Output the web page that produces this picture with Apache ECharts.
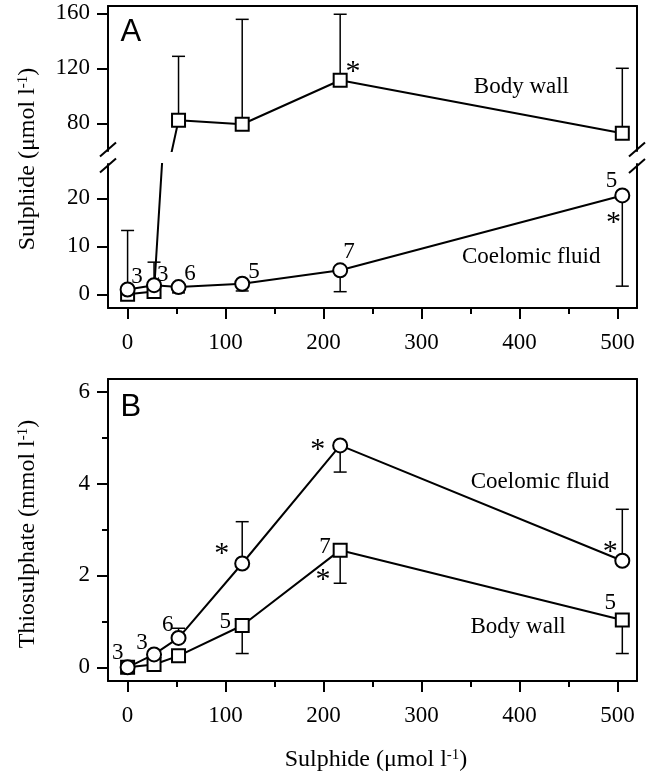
<!DOCTYPE html>
<html><head><meta charset="utf-8">
<script src="https://cdn.jsdelivr.net/npm/echarts@6/dist/echarts.min.js"></script>
<style>html,body{margin:0;padding:0;background:#fff}#c{width:651px;height:780px}</style>
</head><body><div id="c"></div>
<script>
// ---- data ----
const sulphideAdded = [0, 27, 52, 117, 217, 505];
// Panel A: sulphide (umol/l)
const sulphBodyWall = [0.0, 0.6, 82.2, 79.3, 111.3, 72.7];
const sulphBodyWallErrEnd = [null, null, 128.7, 155.6, 159.3, 120.0];
const sulphCoelomic = [1.0, 1.9, 1.5, 2.2, 5.0, 20.6];
const sulphCoelomicErrEnd = [13.3, 6.7, 0.3, 0.7, 0.55, 1.7];
// Panel B: thiosulphate (mmol/l)
const thioCoelomic = [0.0, 0.28, 0.64, 2.26, 4.83, 2.32];
const thioCoelomicErrEnd = [null, null, 0.85, 3.17, 4.25, 3.44];
const thioBodyWall = [0.0, 0.06, 0.25, 0.91, 2.55, 1.03];
const thioBodyWallErrEnd = [null, null, null, 0.30, 1.83, 0.30];
// tick values
const xMajorTicks = [0, 100, 200, 300, 400, 500];
const xMinorTicks = [50, 150, 250, 350, 450];
const yTicksAUpper = [80, 120, 160];
const yTicksALower = [0, 10, 20];
const yTicksB = [0, 2, 4, 6];
const yMinorTicksB = [1, 3, 5];
// annotations (data coordinates)
const annoAUpper = [['*', 230, 121], ['Body wall', 402, 106.4]];
const annoALower = [['3', 9.5, 3.6], ['3', 36, 4.0], ['6', 63.6, 4.2], ['5', 129, 4.6], ['7', 226, 8.8],
  ['5', 494, 23.6], ['*', 496, 15.9], ['Coelomic fluid', 412, 7.8]];
const annoB = [['3', -10, 0.31], ['3', 14.6, 0.53], ['6', 41, 0.92], ['*', 96, 2.57], ['5', 99.6, 0.985],
  ['*', 194, 4.83], ['7', 201.6, 2.62], ['*', 199.5, 2.0], ['Coelomic fluid', 421, 4.03],
  ['*', 492.6, 2.62], ['5', 492.6, 1.40], ['Body wall', 398.6, 0.875]];
const panelLabels = [['A', 3.4, 146.4], ['B', 3.4, 5.66]];

// ---- chart ----
const FONT = 'Liberation Serif';
const FS = 23;
const chart = echarts.init(document.getElementById('c'), null, {renderer: 'canvas'});

const L = 108, W = 529;
const grids = [
  {left: L, top: 6, width: W, height: 145},
  {left: L, top: 164, width: W, height: 144},
  {left: L, top: 379, width: W, height: 302}
];
const X_MIN = -20, X_MAX = 520;
const lineSty = {color: '#000', width: 2};

function lineOnlyX(gi, pos) {
  return {type: 'value', gridIndex: gi, position: pos, min: X_MIN, max: X_MAX,
    axisLine: {show: true, onZero: false, lineStyle: lineSty}, axisTick: {show: false},
    axisLabel: {show: false}, splitLine: {show: false}};
}
function majorX(gi) {
  return {type: 'value', gridIndex: gi, position: 'bottom', min: X_MIN, max: X_MAX,
    axisLine: {show: true, onZero: false, lineStyle: lineSty},
    axisTick: {show: true, length: 11, customValues: xMajorTicks, lineStyle: lineSty},
    axisLabel: {show: true, customValues: xMajorTicks, margin: 23, fontSize: FS, fontFamily: FONT, color: '#000'},
    splitLine: {show: false}};
}
function minorX(gi) {
  return {type: 'value', gridIndex: gi, position: 'bottom', min: X_MIN, max: X_MAX,
    axisLine: {show: false, onZero: false},
    axisTick: {show: true, length: 6, customValues: xMinorTicks, lineStyle: lineSty},
    axisLabel: {show: false}, splitLine: {show: false}};
}
function lineOnlyY(gi, pos) {
  return {type: 'value', gridIndex: gi, position: pos,
    axisLine: {show: true, onZero: false, lineStyle: lineSty}, axisTick: {show: false},
    axisLabel: {show: false}, splitLine: {show: false}};
}
function majorY(gi, mn, mx, ticks) {
  return {type: 'value', gridIndex: gi, position: 'left', min: mn, max: mx,
    axisLine: {show: true, onZero: false, lineStyle: lineSty},
    axisTick: {show: true, length: 11, customValues: ticks, lineStyle: lineSty},
    axisLabel: {show: true, customValues: ticks, margin: 18, fontSize: FS, fontFamily: FONT, color: '#000'},
    splitLine: {show: false}};
}
function minorY(gi, mn, mx, ticks) {
  return {type: 'value', gridIndex: gi, position: 'left', min: mn, max: mx,
    axisLine: {show: false, onZero: false},
    axisTick: {show: true, length: 6, customValues: ticks, lineStyle: lineSty},
    axisLabel: {show: false}, splitLine: {show: false}};
}

const xAxis = [
  lineOnlyX(0, 'top'),      // 0: A upper (data axis)
  majorX(1),                // 1: A lower
  minorX(1),                // 2
  majorX(2),                // 3: B
  minorX(2),                // 4
  lineOnlyX(2, 'top')       // 5
];
const yAxis = [
  majorY(0, 59.85, 165.3, yTicksAUpper),   // 0
  lineOnlyY(0, 'right'),                  // 1
  majorY(1, -2.85, 27.15, yTicksALower),  // 2
  lineOnlyY(1, 'right'),                  // 3
  majorY(2, -0.298, 6.276, yTicksB),      // 4
  minorY(2, -0.298, 6.276, yMinorTicksB), // 5
  lineOnlyY(2, 'right')                   // 6
];

function pairs(vals) { return sulphideAdded.map((x, i) => [x, vals[i]]); }
function errData(vals, ends) {
  return sulphideAdded.map((x, i) => ends[i] == null ? null : [x, vals[i], ends[i]]).filter(Boolean);
}
function errRender(params, api) {
  const x = api.value(0), y0 = api.value(1), y1 = api.value(2);
  const p0 = api.coord([x, y0]), p1 = api.coord([x, y1]);
  const hw = 6.5;
  return {type: 'group', children: [
    {type: 'line', shape: {x1: p0[0], y1: p0[1], x2: p1[0], y2: p1[1]}, style: {stroke: '#000', lineWidth: 1.5}},
    {type: 'line', shape: {x1: p1[0] - hw, y1: p1[1], x2: p1[0] + hw, y2: p1[1]}, style: {stroke: '#000', lineWidth: 1.5}}
  ]};
}
function lineSeries(xi, yi, vals, sym, size, z) {
  return {type: 'line', xAxisIndex: xi, yAxisIndex: yi, data: pairs(vals), symbol: sym, symbolSize: size,
    showAllSymbol: true, clip: true, z: z, animation: false, silent: true,
    lineStyle: {color: '#000', width: 2}, itemStyle: {color: '#fff', borderColor: '#000', borderWidth: 2}};
}
function errSeries(xi, yi, vals, ends) {
  return {type: 'custom', xAxisIndex: xi, yAxisIndex: yi, data: errData(vals, ends), renderItem: errRender,
    z: 1, animation: false, silent: true, clip: true};
}
function labelStyle(txt, size, family, dy) {
  return {show: true, position: 'inside', formatter: txt, offset: [0, dy],
    fontSize: size, fontFamily: family, color: '#000', opacity: 1, textBorderWidth: 0, textShadowBlur: 0};
}
function annoSeries(xi, yi, list) {
  return {type: 'scatter', xAxisIndex: xi, yAxisIndex: yi, symbol: 'circle', symbolSize: 0.01, z: 5,
    animation: false, silent: true, itemStyle: {color: '#000'},
    data: list.map(a => ({value: [a[1], a[2]],
      label: a[0] === '*' ? labelStyle('*', 30, FONT, 5) : labelStyle(a[0], FS, FONT, 0)}))};
}
const SQ = 13, CI = 14;
const series = [
  // Panel A upper
  errSeries(0, 0, sulphBodyWall, sulphBodyWallErrEnd),
  lineSeries(0, 0, sulphBodyWall, 'rect', SQ, 2),
  annoSeries(0, 0, annoAUpper),
  // Panel A lower
  errSeries(1, 2, sulphCoelomic, sulphCoelomicErrEnd),
  lineSeries(1, 2, sulphBodyWall, 'rect', SQ, 2),
  lineSeries(1, 2, sulphCoelomic, 'circle', CI, 3),
  annoSeries(1, 2, annoALower),
  // Panel B
  errSeries(3, 4, thioBodyWall, thioBodyWallErrEnd),
  errSeries(3, 4, thioCoelomic, thioCoelomicErrEnd),
  lineSeries(3, 4, thioBodyWall, 'rect', SQ, 2),
  lineSeries(3, 4, thioCoelomic, 'circle', CI, 3),
  annoSeries(3, 4, annoB),
  // Panel letters
  {type: 'scatter', xAxisIndex: 0, yAxisIndex: 0, symbolSize: 0.01, itemStyle: {color: '#000'}, z: 5,
    animation: false, silent: true,
    data: [{value: [panelLabels[0][1], panelLabels[0][2]], label: labelStyle(panelLabels[0][0], 31, 'Liberation Sans', 0)}]},
  {type: 'scatter', xAxisIndex: 3, yAxisIndex: 4, symbolSize: 0.01, itemStyle: {color: '#000'}, z: 5,
    animation: false, silent: true,
    data: [{value: [panelLabels[1][1], panelLabels[1][2]], label: labelStyle(panelLabels[1][0], 31, 'Liberation Sans', 0)}]}
];

// break marks and axis titles
function slash(cx, cy) {
  return {type: 'line', shape: {x1: cx - 8, y1: cy + 7, x2: cx + 8, y2: cy - 7}, style: {stroke: '#000', lineWidth: 2}, z: 10};
}
const rich = {a: {fontSize: 24, fontFamily: FONT, color: '#000'}, s: {fontSize: 15, fontFamily: FONT, color: '#000', verticalAlign: 'top'}};
function titleText(txt, x, y, rot) {
  return {type: 'text', x: x, y: y, rotation: rot, z: 10,
    style: {text: txt, rich: rich, align: 'center', verticalAlign: 'middle'}};
}
const graphic = [
  slash(L, 149.5), slash(L, 165.5), slash(L + W, 149.5), slash(L + W, 166),
  titleText('{a|Sulphide (μmol l}{s|-1}{a|)}', 28, 159, Math.PI / 2),
  titleText('{a|Thiosulphate (mmol l}{s|-1}{a|)}', 28, 534, Math.PI / 2),
  titleText('{a|Sulphide (μmol l}{s|-1}{a|)}', 376, 760, 0)
];

chart.setOption({
  animation: false,
  backgroundColor: '#fff',
  textStyle: {fontFamily: FONT, color: '#000'},
  grid: grids, xAxis: xAxis, yAxis: yAxis, series: series, graphic: graphic
});
</script></body></html>
